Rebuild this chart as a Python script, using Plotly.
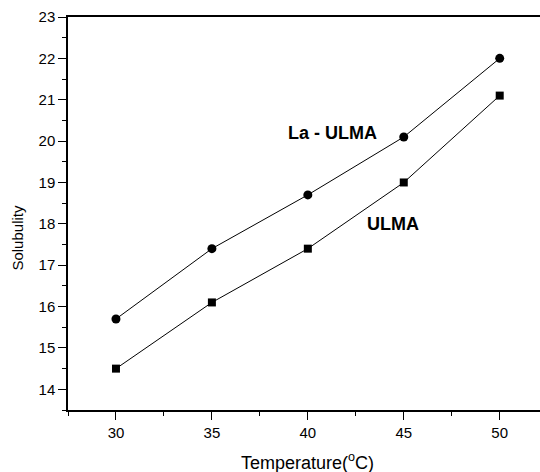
import plotly.graph_objects as go

temperature = [30, 35, 40, 45, 50]
la_ulma = [15.7, 17.4, 18.7, 20.1, 22.0]
ulma = [14.5, 16.1, 17.4, 19.0, 21.1]
x_ticks = [30, 35, 40, 45, 50]
y_ticks = [14, 15, 16, 17, 18, 19, 20, 21, 22, 23]

font = "Liberation Sans, Arial, sans-serif"

fig = go.Figure()
fig.add_trace(go.Scatter(x=temperature, y=la_ulma, mode="lines+markers",
                         line=dict(color="black", width=1),
                         marker=dict(symbol="circle", size=9, color="black"),
                         showlegend=False))
fig.add_trace(go.Scatter(x=temperature, y=ulma, mode="lines+markers",
                         line=dict(color="black", width=1),
                         marker=dict(symbol="square", size=8, color="black"),
                         showlegend=False))

fig.add_annotation(x=41.3, y=20.2, text="<b>La - ULMA</b>", showarrow=False,
                   font=dict(family=font, size=18, color="black"))
fig.add_annotation(x=44.45, y=18.0, text="<b>ULMA</b>", showarrow=False,
                   font=dict(family=font, size=18, color="black"))

fig.add_annotation(xref="paper", yref="paper", x=0.507, y=-0.132, yanchor="middle",
                   text="Temperature(<sup>o</sup>C)", showarrow=False,
                   font=dict(family=font, size=18, color="black"))
fig.add_annotation(xref="paper", yref="paper", x=-0.107, y=0.44, xanchor="center",
                   yanchor="middle",
                   text="Solubulity", textangle=-90, showarrow=False,
                   font=dict(family=font, size=15, color="black"))

fig.update_layout(
    width=540, height=472,
    margin=dict(l=68, r=0, t=17, b=62),
    paper_bgcolor="white", plot_bgcolor="white",
    font=dict(family=font, size=15, color="black"),
    xaxis=dict(range=[27.5, 52.1], tickvals=x_ticks, ticks="outside", ticklen=8,
               tickwidth=1, tickcolor="black", showline=True, linecolor="black",
               linewidth=1.5, mirror=True, showgrid=False, zeroline=False,
               minor=dict(dtick=2.5, tick0=27.5, ticks="outside", ticklen=4,
                          tickcolor="black", showgrid=False),
               tickfont=dict(family=font, size=15)),
    yaxis=dict(range=[13.5, 23], tickvals=y_ticks, ticks="outside", ticklen=8,
               tickwidth=1, tickcolor="black", showline=True, linecolor="black",
               linewidth=1.5, showgrid=False, zeroline=False,
               minor=dict(dtick=0.5, tick0=13.5, ticks="outside", ticklen=4,
                          tickcolor="black", showgrid=False),
               tickfont=dict(family=font, size=15)),
)

fig.write_html("out.html")
